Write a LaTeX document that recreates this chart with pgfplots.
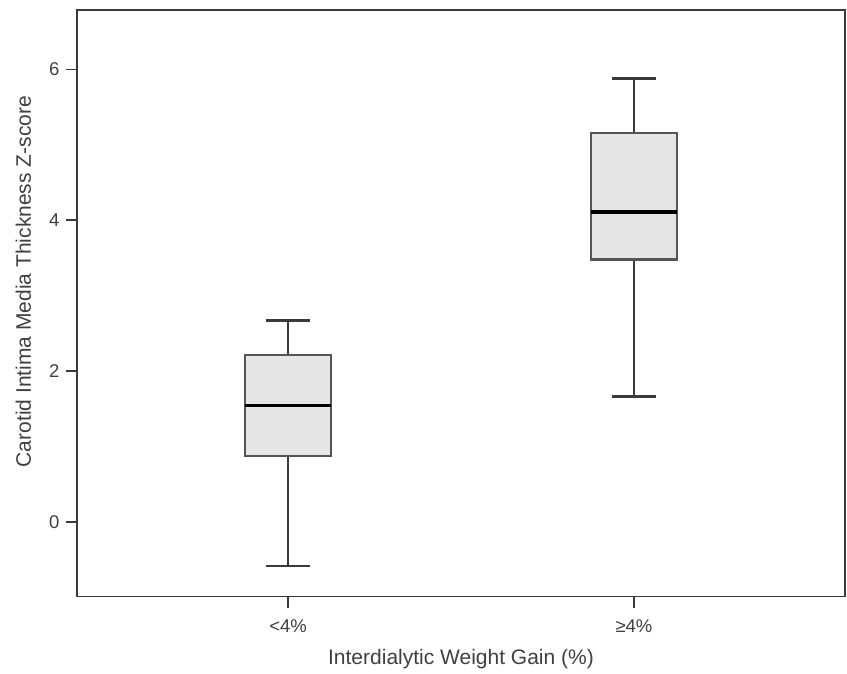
\documentclass[border=0pt]{standalone}
\usepackage{pgfplots}
\pgfplotsset{compat=1.18}
\usepgfplotslibrary{statistics}
\usepackage{fontspec}
\setmainfont{Liberation Sans}
\definecolor{boxfill}{HTML}{E6E6E6}
\definecolor{boxedge}{HTML}{555555}
\definecolor{framec}{HTML}{3A3A3A}
\definecolor{txt}{HTML}{404040}
\begin{document}
\begin{tikzpicture}
\begin{axis}[
  scale only axis,
  width=768pt, height=586.7pt,
  xmin=0.39, xmax=2.61,
  ymin=-0.995, ymax=6.79,
  axis line style={framec, line width=1.6pt},
  xtick={1,2},
  xticklabels={{<4\%},{≥4\%}},
  ytick={0,2,4,6},
  xtick pos=lower, ytick pos=left,
  tick align=outside,
  major tick length=11pt,
  tick style={framec, line width=1.6pt},
  /pgf/number format/assume math mode=true,
  ticklabel style={font=\fontsize{18.5}{20}\selectfont, text=txt},
  xticklabel style={yshift=-8pt},
  yticklabel style={xshift=-3pt},
  label style={font=\fontsize{21}{24}\selectfont, text=txt},
  xlabel={Interdialytic Weight Gain (\%)},
  ylabel={Carotid Intima Media Thickness Z-score},
  xlabel style={at={(axis description cs:0.5,0)}, anchor=base, yshift=-68pt},
  ylabel style={at={(axis description cs:-0.0697,0.537)}, anchor=center},
  boxplot/draw direction=y,
  boxplot/every box/.style={fill=boxfill, draw=boxedge, line width=2.4pt},
  boxplot/every median/.style={black, line width=3.5pt},
  boxplot/every whisker/.style={framec, line width=2.6pt},
]
\addplot+[mark=none, draw=framec, boxplot prepared={
  median=1.54, upper quartile=2.21, lower quartile=0.87,
  upper whisker=2.67, lower whisker=-0.59,
  draw position=1, box extend=0.25, whisker extend=0.125}]
  coordinates {};
\addplot+[mark=none, draw=framec, boxplot prepared={
  median=4.11, upper quartile=5.16, lower quartile=3.48,
  upper whisker=5.88, lower whisker=1.66,
  draw position=2, box extend=0.25, whisker extend=0.125}]
  coordinates {};
\end{axis}
\path[use as bounding box] (-77pt,-77.3pt) rectangle (770pt,596.7pt);
\end{tikzpicture}
\end{document}
